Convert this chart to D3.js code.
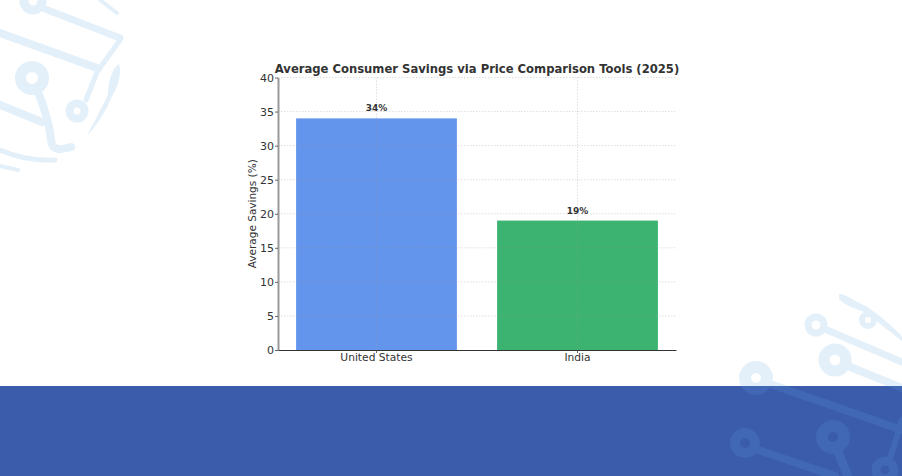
<!DOCTYPE html>
<html>
<head>
<meta charset="utf-8">
<script src="https://cdnjs.cloudflare.com/ajax/libs/d3/7.8.5/d3.min.js"></script>
<style>
html, body { margin: 0; padding: 0; background: #fff; }
svg { display: block; }
text { font-family: "DejaVu Sans", sans-serif; fill: #333; }
</style>
</head>
<body>
<svg id="chart" width="902" height="476"></svg>
<script>
var categories = ["United States", "India"];
var savings = [34, 19];
var yTicks = [0, 5, 10, 15, 20, 25, 30, 35, 40];
var barColors = ["#6495ed", "#3cb371"];

var width = 902,
    height = 476,
    bandTop = 386;

var plotLeft = 278, plotRight = 676, plotTop = 77.5, plotBottom = 350;

var svg = d3.select("#chart");

var x = d3.scaleBand()
    .domain(categories)
    .range([plotLeft, plotRight])
    .paddingInner(0.2)
    .paddingOuter(0.09);

var y = d3.scaleLinear()
    .domain([0, 40])
    .range([plotBottom, plotTop]);

// blue strip along the bottom
svg.append("rect")
    .attr("x", 0)
    .attr("y", bandTop)
    .attr("width", width)
    .attr("height", height - bandTop)
    .attr("fill", "#3b5bab");

// decorative circuit traces
var traces = [
    {d: "M0,33 L97,68", w: 8},
    {d: "M45,9 L120,38", w: 7},
    {d: "M100,0 L117,13", w: 4},
    {d: "M120,40 L97,72 L86,100", w: 5},
    {d: "M38,92 C46,112 50,128 51,140 C52,151 60,150 71,147", w: 8},
    {d: "M0,105 L42,122", w: 8},
    {d: "M0,150 C16,157 34,161 55,160", w: 5},
    {d: "M0,166 L18,170", w: 4},
    {d: "M827,330 L902,362", w: 7},
    {d: "M848,366 L902,388", w: 8},
    {d: "M770,384 L902,430", w: 8},
    {d: "M758,450 L835,476", w: 8},
    {d: "M838,452 L848,476", w: 9},
    {d: "M889,462 L902,420", w: 6}
];
// tapered needle shapes, filled rather than stroked
var needles = [
    "M119,64 C122,72 118,88 112,96 C106,112 96,126 87,136 C95,120 103,106 108,94 C108,82 112,68 119,64 Z",
    "M839,294 C846,294 856,302 866,306 C878,314 892,326 902,336 L902,341 C890,332 876,320 864,312 C854,308 842,304 839,299 Z"
];
var rings = [
    {cx: 33, cy: 1, r: 9, w: 9},
    {cx: 32, cy: 78, r: 11.5, w: 11},
    {cx: 77, cy: 111, r: 7.5, w: 8},
    {cx: 816, cy: 325, r: 8, w: 7},
    {cx: 835, cy: 360, r: 11, w: 11},
    {cx: 868, cy: 320, r: 6, w: 6},
    {cx: 756, cy: 378, r: 11, w: 12},
    {cx: 745, cy: 443, r: 10, w: 10},
    {cx: 833, cy: 437, r: 11, w: 12},
    {cx: 885, cy: 470, r: 9, w: 9}
];

var defs = svg.append("defs");
defs.append("clipPath").attr("id", "above")
    .append("rect").attr("width", width).attr("height", bandTop);
defs.append("clipPath").attr("id", "below")
    .append("rect").attr("y", bandTop).attr("width", width).attr("height", height - bandTop);

[["above", "#e3f0fa"], ["below", "#4068b4"]].forEach(function(layer) {
    var g = svg.append("g")
        .attr("clip-path", "url(#" + layer[0] + ")")
        .attr("fill", "none")
        .attr("stroke", layer[1])
        .attr("stroke-linecap", "round");
    g.selectAll("path.trace").data(traces).enter().append("path")
        .attr("class", "trace")
        .attr("d", function(d) { return d.d; })
        .attr("stroke-width", function(d) { return d.w; });
    g.selectAll("path.needle").data(needles).enter().append("path")
        .attr("class", "needle")
        .attr("d", function(d) { return d; })
        .attr("fill", layer[1])
        .attr("stroke", "none");
    g.selectAll("circle").data(rings).enter().append("circle")
        .attr("cx", function(d) { return d.cx; })
        .attr("cy", function(d) { return d.cy; })
        .attr("r", function(d) { return d.r; })
        .attr("stroke-width", function(d) { return d.w; });
});

// bars
svg.selectAll("rect.bar").data(categories).enter().append("rect")
    .attr("class", "bar")
    .attr("x", function(d) { return x(d); })
    .attr("y", function(d, i) { return y(savings[i]); })
    .attr("width", x.bandwidth())
    .attr("height", function(d, i) { return y(0) - y(savings[i]); })
    .attr("fill", function(d, i) { return barColors[i]; });

// grid sits on top of the bars
var grid = svg.append("g")
    .attr("stroke", "#999")
    .attr("stroke-opacity", 0.45)
    .attr("stroke-width", 0.7)
    .attr("stroke-dasharray", "1.5,1.5");
grid.selectAll("line.h").data(yTicks.slice(1)).enter().append("line")
    .attr("class", "h")
    .attr("x1", plotLeft).attr("x2", plotRight)
    .attr("y1", function(d) { return y(d); })
    .attr("y2", function(d) { return y(d); });
grid.selectAll("line.v").data(categories).enter().append("line")
    .attr("class", "v")
    .attr("x1", function(d) { return x(d) + x.bandwidth() / 2; })
    .attr("x2", function(d) { return x(d) + x.bandwidth() / 2; })
    .attr("y1", plotTop).attr("y2", plotBottom);

// axes
var yAxis = d3.axisLeft(y).tickValues(yTicks).tickSize(3).tickSizeOuter(0).tickPadding(1);
var xAxis = d3.axisBottom(x).tickSize(3).tickSizeOuter(0).tickPadding(0);

var gy = svg.append("g")
    .attr("transform", "translate(" + plotLeft + ",0)")
    .call(yAxis);
gy.selectAll("text").attr("font-size", 11).style("font-family", "DejaVu Sans");
gy.selectAll("line").attr("stroke", "#444").attr("stroke-width", 0.8);
gy.select(".domain").attr("stroke", "#999").attr("stroke-width", 2);

var gx = svg.append("g")
    .attr("transform", "translate(0," + plotBottom + ")")
    .call(xAxis);
gx.selectAll("text").attr("font-size", 10.7).style("font-family", "DejaVu Sans");
gx.selectAll("line").attr("stroke", "#444").attr("stroke-width", 0.8);
gx.select(".domain").attr("stroke", "#333").attr("stroke-width", 1);

// value labels
svg.selectAll("text.value").data(categories).enter().append("text")
    .attr("class", "value")
    .attr("x", function(d) { return x(d) + x.bandwidth() / 2; })
    .attr("y", function(d, i) { return y(savings[i]) - 7; })
    .attr("text-anchor", "middle")
    .attr("font-size", 9)
    .attr("font-weight", "bold")
    .text(function(d, i) { return savings[i] + "%"; });

svg.append("text")
    .attr("x", 477)
    .attr("y", 72.5)
    .attr("text-anchor", "middle")
    .attr("font-size", 11.6)
    .attr("font-weight", "bold")
    .text("Average Consumer Savings via Price Comparison Tools (2025)");

svg.append("text")
    .attr("transform", "translate(256," + (plotTop + plotBottom) / 2 + ") rotate(-90)")
    .attr("text-anchor", "middle")
    .attr("font-size", 10.5)
    .text("Average Savings (%)");
</script>
</body>
</html>
